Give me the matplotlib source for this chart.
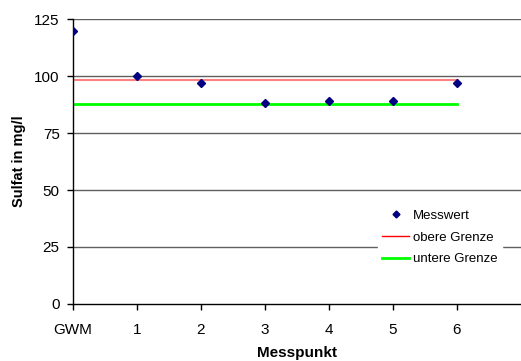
import matplotlib
matplotlib.use("Agg")
import matplotlib.pyplot as plt

plt.rcParams['font.family'] = ['Liberation Sans', 'DejaVu Sans']

# Sulfat-Messwerte je Messpunkt
punkte = [0, 1, 2, 3, 4, 5, 6]
tick_labels = ['GWM', '1', '2', '3', '4', '5', '6']
messwert = [120, 100, 97, 88, 89, 89, 97]
obere_grenze = [98.3] * 7
untere_grenze = [87.8] * 7

fig = plt.figure(figsize=(5.21, 3.61), dpi=100)
ax = fig.add_axes([0.140, 0.158, 0.860, 0.789])

for yv in [25, 50, 75, 100, 125]:
    ax.axhline(yv, color='#606060', lw=1.0, zorder=1)

ax.plot(punkte, obere_grenze, color='#ff8080', lw=1.5, zorder=2)
ax.plot(punkte, untere_grenze, color='#00ff00', lw=2.0, zorder=2)
ax.plot(punkte, messwert, linestyle='none', marker='D', markersize=4.5,
        color='#000080', zorder=3)

# legend handles with pure colours
h1, = ax.plot([], [], linestyle='none', marker='D', markersize=3.5, color='#000080')
h2, = ax.plot([], [], color='#ff0000', lw=1.0)
h3, = ax.plot([], [], color='#00ff00', lw=2.0)
leg = ax.legend([h1, h2, h3], ['Messwert', 'obere Grenze', 'untere Grenze'],
                loc='upper left', bbox_to_anchor=(0.681, 0.345), frameon=True,
                fontsize=9.5, handlelength=2.05, handletextpad=0.3,
                labelspacing=0.72, borderpad=0.3, borderaxespad=0,
                fancybox=False)
leg.get_frame().set_edgecolor('white')
leg.get_frame().set_facecolor('white')
leg.get_frame().set_alpha(1.0)
leg.set_zorder(5)

ax.set_xlim(0, 7)
ax.set_ylim(0, 125)
ax.set_xticks(punkte)
ax.set_xticklabels(tick_labels)
ax.set_yticks([0, 25, 50, 75, 100, 125])
ax.tick_params(axis='both', labelsize=11, length=4.5, width=1, direction='out')
ax.tick_params(axis='x', pad=9)
ax.tick_params(axis='y', pad=5)

for s in ['top', 'right']:
    ax.spines[s].set_visible(False)
ax.spines['left'].set_linewidth(1.0)
ax.spines['bottom'].set_linewidth(1.0)

ax.set_ylabel('Sulfat in mg/l', fontsize=10.5, fontweight='bold', labelpad=6)
ax.set_xlabel('Messpunkt', fontsize=11, fontweight='bold', labelpad=7)

fig.savefig('out.png', dpi=100)
